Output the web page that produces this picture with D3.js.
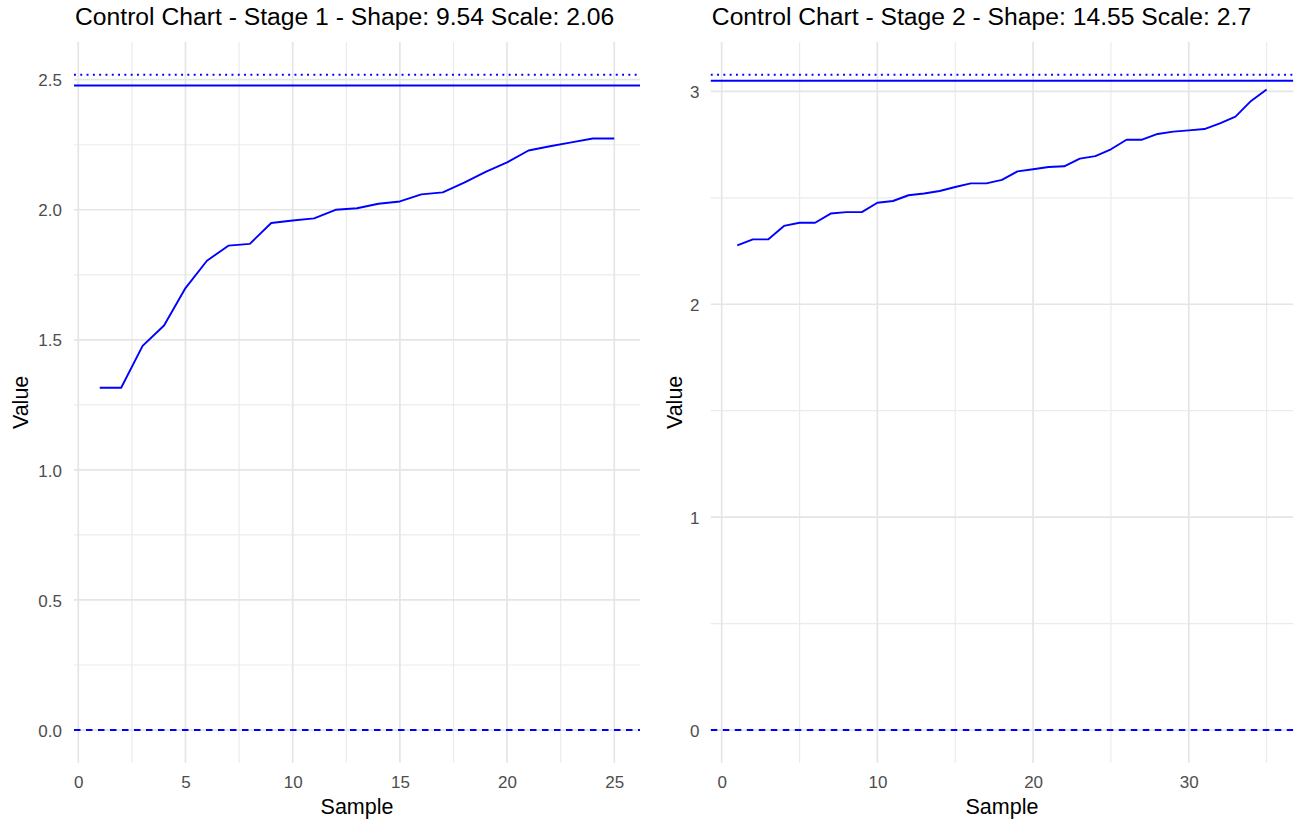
<!DOCTYPE html>
<html>
<head>
<meta charset="utf-8">
<script src="https://cdn.jsdelivr.net/npm/d3@7"></script>
<style>
  html, body { margin: 0; padding: 0; background: #ffffff; }
  svg { display: block; }
  text { font-family: "Liberation Sans", Arial, sans-serif; }
</style>
</head>
<body>
<svg id="chart" width="1304" height="823"></svg>
<script>
// ---------- Data ----------
const stage1Titles = "Control Chart - Stage 1 - Shape: 9.54 Scale: 2.06";
const stage2Titles = "Control Chart - Stage 2 - Shape: 14.55 Scale: 2.7";

const stage1Samples = d3.range(1, 26);
const stage1Values = [1.316, 1.316, 1.477, 1.555, 1.699, 1.804, 1.862, 1.869, 1.949, 1.959,
                      1.967, 2.000, 2.006, 2.023, 2.032, 2.059, 2.067, 2.104, 2.146, 2.182,
                      2.228, 2.244, 2.259, 2.274, 2.274];
const stage1Upper = 2.519;   // dotted
const stage1Center = 2.478;  // solid
const stage1Lower = 0;       // dashed
const stage1XTicks = [0, 5, 10, 15, 20, 25];
const stage1YTicks = [0, 0.5, 1.0, 1.5, 2.0, 2.5];
const stage1YLabels = ["0.0", "0.5", "1.0", "1.5", "2.0", "2.5"];

const stage2Samples = d3.range(1, 36);
const stage2Values = [2.277, 2.305, 2.305, 2.368, 2.383, 2.383, 2.426, 2.433, 2.433, 2.477,
                      2.485, 2.512, 2.520, 2.532, 2.551, 2.568, 2.568, 2.584, 2.624, 2.634,
                      2.645, 2.648, 2.684, 2.696, 2.728, 2.773, 2.773, 2.800, 2.811, 2.817,
                      2.823, 2.850, 2.881, 2.955, 3.009];
const stage2Upper = 3.078;
const stage2Center = 3.050;
const stage2Lower = 0;
const stage2XTicks = [0, 10, 20, 30];
const stage2YTicks = [0, 1, 2, 3];
const stage2YLabels = ["0", "1", "2", "3"];

// ---------- Drawing ----------
const svg = d3.select("#chart");
const FONT = '"Liberation Sans", Arial, sans-serif';
const BLUE = "#0000ff";
const LW = 1.9;

function expand(lo, hi) {
  const d = (hi - lo) * 0.05;
  return [lo - d, hi + d];
}

function panel(cfg) {
  const g = svg.append("g");
  const xDom = expand(d3.min(cfg.samples), d3.max(cfg.samples));
  const allY = cfg.values.concat([cfg.upper, cfg.center, cfg.lower]);
  const yDom = expand(d3.min(allY), d3.max(allY));

  const x = d3.scaleLinear().domain(xDom).range([cfg.left, cfg.right]);
  const y = d3.scaleLinear().domain(yDom).range([cfg.bottom, cfg.top]);

  // minor gridlines
  const xStep = cfg.xTicks[1] - cfg.xTicks[0];
  const xMinor = cfg.xTicks.map(t => t + xStep / 2).filter(m => m > xDom[0] && m < xDom[1]);
  const yStep = cfg.yTicks[1] - cfg.yTicks[0];
  const yMinor = cfg.yTicks.map(t => t + yStep / 2).filter(m => m > yDom[0] && m < yDom[1]);

  const grid = g.append("g");
  grid.selectAll(".ymin").data(yMinor).join("line")
    .attr("x1", cfg.left).attr("x2", cfg.right)
    .attr("y1", d => y(d)).attr("y2", d => y(d))
    .attr("stroke", "#ebebeb").attr("stroke-width", 1.2);
  grid.selectAll(".xmin").data(xMinor).join("line")
    .attr("y1", cfg.top).attr("y2", cfg.bottom)
    .attr("x1", d => x(d)).attr("x2", d => x(d))
    .attr("stroke", "#ebebeb").attr("stroke-width", 1.2);
  grid.selectAll(".ymaj").data(cfg.yTicks).join("line")
    .attr("x1", cfg.left).attr("x2", cfg.right)
    .attr("y1", d => y(d)).attr("y2", d => y(d))
    .attr("stroke", "#e5e5e5").attr("stroke-width", 1.7);
  grid.selectAll(".xmaj").data(cfg.xTicks).join("line")
    .attr("y1", cfg.top).attr("y2", cfg.bottom)
    .attr("x1", d => x(d)).attr("x2", d => x(d))
    .attr("stroke", "#e5e5e5").attr("stroke-width", 1.7);

  // axes (labels only, via d3 axis)
  const xAxis = d3.axisBottom(x).tickValues(cfg.xTicks).tickSize(0).tickPadding(0)
    .tickFormat(d3.format("d"));
  const xa = g.append("g").attr("transform", `translate(0,${cfg.xLabelBase})`).call(xAxis);
  xa.select(".domain").remove();
  xa.selectAll("text").attr("dy", 0).attr("y", 0)
    .style("font-family", FONT).style("font-size", "17px").attr("fill", "#4d4d4d");

  const yAxis = d3.axisLeft(y).tickValues(cfg.yTicks).tickSize(0).tickPadding(0)
    .tickFormat((d, i) => cfg.yLabels[i]);
  const ya = g.append("g").attr("transform", `translate(${cfg.yLabelRight},0)`).call(yAxis);
  ya.select(".domain").remove();
  ya.selectAll("text").attr("dy", "0.36em").attr("x", 0)
    .style("font-family", FONT).style("font-size", "17px").attr("fill", "#4d4d4d");

  // reference lines
  g.append("line").attr("x1", cfg.left).attr("x2", cfg.right)
    .attr("y1", y(cfg.upper)).attr("y2", y(cfg.upper))
    .attr("stroke", BLUE).attr("stroke-width", LW).attr("stroke-dasharray", "1.9,4.4");
  g.append("line").attr("x1", cfg.left).attr("x2", cfg.right)
    .attr("y1", y(cfg.center)).attr("y2", y(cfg.center))
    .attr("stroke", BLUE).attr("stroke-width", LW);
  g.append("line").attr("x1", cfg.left).attr("x2", cfg.right)
    .attr("y1", y(cfg.lower)).attr("y2", y(cfg.lower))
    .attr("stroke", BLUE).attr("stroke-width", LW).attr("stroke-dasharray", "6.5,5.5");

  // data line
  const line = d3.line().x((d, i) => x(cfg.samples[i])).y(d => y(d));
  g.append("path").datum(cfg.values).attr("d", line)
    .attr("fill", "none").attr("stroke", BLUE).attr("stroke-width", LW)
    .attr("stroke-linejoin", "round");

  // titles
  g.append("text").attr("x", cfg.left + 1).attr("y", 25)
    .style("font-family", FONT).style("font-size", "24.7px").attr("fill", "#000")
    .text(cfg.title);
  g.append("text").attr("x", (cfg.left + cfg.right) / 2).attr("y", 814)
    .attr("text-anchor", "middle")
    .style("font-family", FONT).style("font-size", "21.5px").attr("fill", "#000")
    .text("Sample");
  g.append("text")
    .attr("transform", `translate(${cfg.valueX},${(cfg.top + cfg.bottom) / 2}) rotate(-90)`)
    .attr("text-anchor", "middle")
    .style("font-family", FONT).style("font-size", "21.5px").attr("fill", "#000")
    .text("Value");
}

panel({
  title: stage1Titles, samples: stage1Samples, values: stage1Values,
  upper: stage1Upper, center: stage1Center, lower: stage1Lower,
  xTicks: stage1XTicks, yTicks: stage1YTicks, yLabels: stage1YLabels,
  left: 74.0, right: 640.0, top: 42.0, bottom: 762.8,
  xLabelBase: 788, yLabelRight: 62, valueX: 28.3
});
panel({
  title: stage2Titles, samples: stage2Samples, values: stage2Values,
  upper: stage2Upper, center: stage2Center, lower: stage2Lower,
  xTicks: stage2XTicks, yTicks: stage2YTicks, yLabels: stage2YLabels,
  left: 710.8, right: 1293.1, top: 42.0, bottom: 762.8,
  xLabelBase: 788, yLabelRight: 699.5, valueX: 681.5
});
</script>
</body>
</html>
